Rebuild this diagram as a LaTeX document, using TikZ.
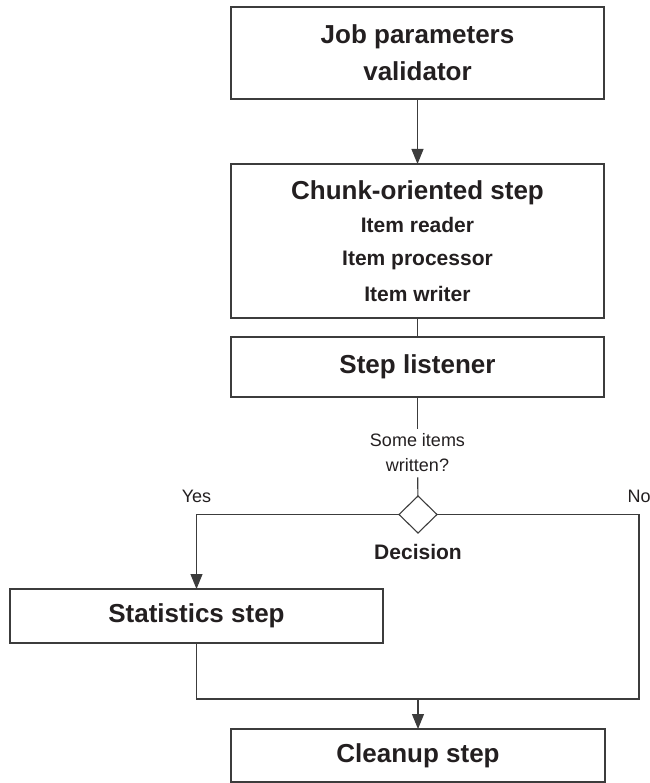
\documentclass[tikz,border=0pt]{standalone}
\usepackage{fontspec}
\setmainfont{Liberation Sans}
\usetikzlibrary{arrows.meta, positioning, shapes.geometric}
\definecolor{flowline}{RGB}{60, 60, 60}
\definecolor{flowtext}{RGB}{35, 31, 32}
\tikzset{
  box/.style={draw=flowline, line width=1.1pt, text=flowtext, align=center, minimum width=373pt, inner sep=0pt, outer sep=0pt, font=\bfseries\fontsize{26}{37}\selectfont},
  lbl/.style={text=flowtext, align=center, font=\fontsize{18}{25}\selectfont},
  decide/.style={diamond, draw=flowline, line width=1.1pt, minimum width=38pt, minimum height=37pt, inner sep=0pt, outer sep=0pt},
  line/.style={line width=1.1pt, flowline},
  arr/.style={line, -{Triangle[length=15pt, width=12pt]}}
}

\begin{document}
\begin{tikzpicture}[x=1pt, y=-1pt]
                \useasboundingbox (0,0) rectangle (649,783);
                \node[box, minimum height=92pt] (validator) at (417.5,53) {Job parameters\\ validator};
                \node[box, minimum height=154pt, below=65pt of validator, font=\bfseries\fontsize{21}{33}\selectfont] (chunk) {{\fontsize{26}{34}\selectfont Chunk-oriented step}\\ Item reader\\ Item processor\\[3pt] Item writer};
                \node[box, minimum height=60pt, below=19pt of chunk] (listener) {Step listener};
                \node[lbl, inner sep=5pt] (question) at (417.5,453) {Some items\\ written?};
                \node[decide] (decision) at (418,514.5) {};
                \node[lbl, below=8pt of decision, font=\bfseries\fontsize{21}{25}\selectfont] (declabel) {Decision};
                \node[box, minimum width=373pt, minimum height=54pt] (stats) at (196.5,616) {Statistics step};
                \node[box, minimum width=374pt, minimum height=53pt] (cleanup) at (418,755.5) {Cleanup step};
                \coordinate (rightcorner) at (639,699);
                \coordinate (join) at (cleanup.north |- rightcorner);
                \draw[arr] (validator) -- (chunk);
                \draw[line] (chunk) -- (listener);
                \draw[line] (listener) -- (question);
                \draw[line] (question) -- (decision);
                \draw[arr] (decision.west) -| node[pos=0.5, above=8pt, lbl] {Yes} (stats.north);
                \draw[line] (decision.east) -| node[pos=0.5, above=8pt, lbl] {No} (rightcorner) -- (stats.south |- rightcorner) -- (stats.south);
                \draw[arr] (join) -- (cleanup);
            \end{tikzpicture}
\end{document}
